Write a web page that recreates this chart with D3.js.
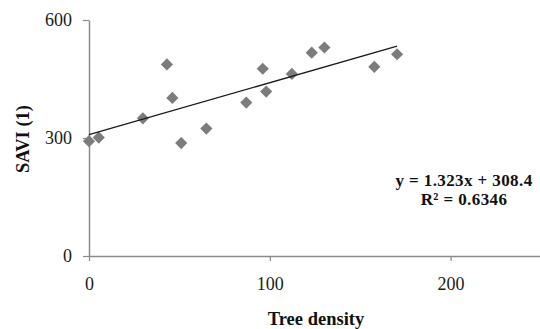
<html>
<head>
<style>
  body { margin: 0; background: #fff; }
  text { font-family: "Liberation Serif", "Times New Roman", serif; }
</style>
</head>
<body>
<svg id="chart" width="540" height="329"></svg>
<script src="https://cdn.jsdelivr.net/npm/d3@7/dist/d3.min.js"></script>
<script>
// tree density vs SAVI (1)
let treeDensity = [0, 5.4, 29.8, 43.1, 46.1, 51.0, 64.9, 87.0, 96.1, 98.0, 112.2, 123.2, 130.2, 157.8, 170.4]
let saviValues  = [292, 301, 350, 487, 402, 287, 324, 390, 476, 418, 463, 517, 530, 481, 513]
let xTicks = [0, 100, 200]
let yTicks = [0, 300, 600]
let trendSlope = 1.323
let trendIntercept = 308.4
let trendLabels = ["y = 1.323x + 308.4", "R\u00b2 = 0.6346"]

let svg = d3.select("#chart")

let xScale = d3.scaleLinear().domain([0, 250]).range([89, 541])
let yScale = d3.scaleLinear().domain([0, 600]).range([256, 20])

// axes
let xAxis = svg.append("g")
    .attr("transform", "translate(0,256)")
    .call(d3.axisBottom(xScale).tickValues(xTicks).tickSize(5).tickSizeOuter(0).tickPadding(16))
let yAxis = svg.append("g")
    .attr("transform", "translate(89,0)")
    .call(d3.axisLeft(yScale).tickValues(yTicks).tickSize(6).tickSizeOuter(0).tickPadding(11))

for (let ax of [xAxis, yAxis]) {
    ax.select(".domain").attr("stroke", "#8a8a8a").attr("stroke-width", 1.5)
    ax.selectAll(".tick line").attr("stroke", "#8a8a8a").attr("stroke-width", 1.2)
    ax.selectAll(".tick text")
        .attr("font-family", "Liberation Serif")
        .attr("font-size", 18)
        .attr("fill", "#1a1a1a")
}

// points
let points = treeDensity.map((d, i) => ({x: d, y: saviValues[i]}))
svg.append("g").selectAll("path")
    .data(points)
    .join("path")
    .attr("d", d3.symbol(d3.symbolSquare, 74))
    .attr("transform", d => "translate(" + xScale(d.x) + "," + yScale(d.y) + ") rotate(45)")
    .attr("fill", "#7c7c7c")

// trend line
let xExt = d3.extent(treeDensity)
let trend = xExt.map(x => ({x: x, y: trendSlope * x + trendIntercept}))
svg.append("path")
    .datum(trend)
    .attr("d", d3.line().x(d => xScale(d.x)).y(d => yScale(d.y)))
    .attr("fill", "none")
    .attr("stroke", "#1a1a1a")
    .attr("stroke-width", 1.3)

// equation
svg.append("g").selectAll("text")
    .data(trendLabels)
    .join("text")
    .attr("x", 464)
    .attr("y", (d, i) => 186 + i * 19)
    .attr("text-anchor", "middle")
    .attr("font-size", 17)
    .attr("font-weight", "bold")
    .attr("letter-spacing", 0.4)
    .attr("fill", "#111")
    .text(d => d)

// axis titles
svg.append("text")
    .attr("x", 316)
    .attr("y", 325)
    .attr("text-anchor", "middle")
    .attr("font-size", 18.5)
    .attr("font-weight", "bold")
    .attr("fill", "#111")
    .text("Tree density")

svg.append("text")
    .attr("transform", "translate(29,139) rotate(-90)")
    .attr("text-anchor", "middle")
    .attr("font-size", 18.5)
    .attr("font-weight", "bold")
    .attr("fill", "#111")
    .text("SAVI (1)")
</script>
</body>
</html>
